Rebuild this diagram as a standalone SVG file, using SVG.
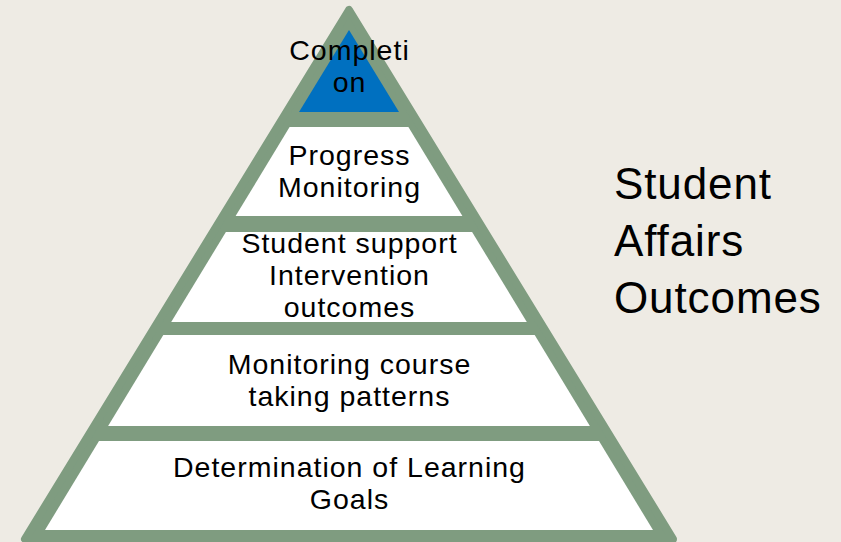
<svg xmlns="http://www.w3.org/2000/svg" width="841" height="542" viewBox="0 0 841 542">
<style>
.lbl{font-family:"Liberation Sans",Arial,sans-serif;font-size:28.5px;letter-spacing:1px;fill:#000;text-anchor:middle}
.side{font-family:"Liberation Sans",Arial,sans-serif;font-size:44px;letter-spacing:0.9px;fill:#000}
.layer{fill:#FFFFFF}
</style>
<rect width="841" height="542" fill="#EEEBE4"/>
<g id="pyramid">
<polygon points="349,10 25,539 673,539" fill="#7F9C80" stroke="#7F9C80" stroke-width="8" stroke-linejoin="round"/>
</g>
<g id="connectors"></g>
<g id="layer1">
<polygon points="349,30 299,112 399,112" fill="#0070C0"/>
<text class="lbl" x="349.5" y="60">Completi</text>
<text class="lbl" x="349.5" y="92">on</text>
</g>
<g id="layer2">
<polygon class="layer" points="289.6,127 408.4,127 462.4,216 235.6,216"/>
<text class="lbl" x="349.5" y="165">Progress</text>
<text class="lbl" x="349.5" y="197">Monitoring</text>
</g>
<g id="layer3">
<polygon class="layer" points="225.9,232 472.1,232 526.8,322 171.2,322"/>
<text class="lbl" x="349.5" y="253">Student support</text>
<text class="lbl" x="349.5" y="285">Intervention</text>
<text class="lbl" x="349.5" y="317">outcomes</text>
</g>
<g id="layer4">
<polygon class="layer" points="163.3,335 534.7,335 589.9,426 108.1,426"/>
<text class="lbl" x="349.5" y="374">Monitoring course</text>
<text class="lbl" x="349.5" y="406">taking patterns</text>
</g>
<g id="layer5">
<polygon class="layer" points="99,441 599,441 653,530 45,530"/>
<text class="lbl" x="349.5" y="477">Determination of Learning</text>
<text class="lbl" x="349.5" y="509">Goals</text>
</g>
<g id="title">
<text class="side" x="614" y="199">Student</text>
<text class="side" x="614" y="256">Affairs</text>
<text class="side" x="614" y="313">Outcomes</text>
</g>
</svg>
